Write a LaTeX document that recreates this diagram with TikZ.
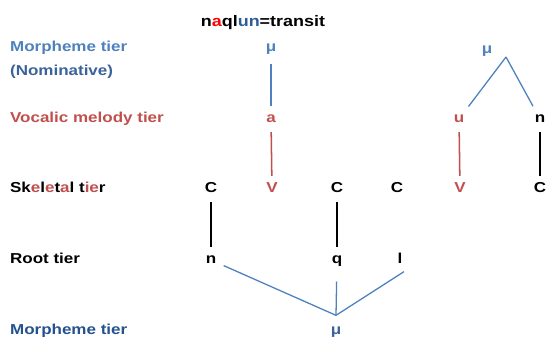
\documentclass[tikz,border=0pt]{standalone}
\usepackage{fontspec}
\setmainfont{Liberation Sans}
\usetikzlibrary{positioning}
\definecolor{tierBlue}{HTML}{4F81BD}
\definecolor{nomBlue}{HTML}{3A6399}
\definecolor{deepBlue}{HTML}{24528E}
\definecolor{tierRed}{HTML}{C0504D}
\definecolor{titleBlue}{HTML}{2F5C99}
\tikzstyle{seg} = [font=\fontsize{12.3}{14}\selectfont\bfseries, xscale=1.18,
    inner xsep=3pt, inner ysep=3.5pt, text height=2.6mm, text depth=0.7mm]
\tikzstyle{tier} = [seg, anchor=west]
\tikzstyle{link} = [shorten >=1mm, shorten <=1mm]
\tikzstyle{blueLine} = [draw=tierBlue, line width=1.1pt]
\tikzstyle{redLine} = [draw=tierRed, line width=1.3pt]
\tikzstyle{blackLine} = [draw=black, line width=1.6pt]

\begin{document}
\begin{tikzpicture}

\useasboundingbox (0,0) rectangle (16.38,-10.14);

\node[seg, font=\fontsize{13}{15}\selectfont\bfseries] (Title) at (7.89,-0.69)
  {n\textcolor{red}{a}ql\textcolor{titleBlue}{un}=transit};

\node[tier, text=tierBlue] (MorphTop) at (0.17,-1.44) {Morpheme tier};
\node[tier, text=nomBlue] (Nominative) at (0.17,-2.16) {(Nominative)};
\node[tier, text=tierRed] (Vocalic) at (0.17,-3.57) {Vocalic melody tier};
\node[tier] (Skeletal) at (0.17,-5.67)
  {Sk\textcolor{tierRed}{e}l\textcolor{tierRed}{e}t\textcolor{tierRed}{a}l
   t\textcolor{tierRed}{ie}r};
\node[tier] (Root) at (0.17,-7.8) {Root tier};
\node[tier, text=deepBlue] (MorphBottom) at (0.17,-9.93) {Morpheme tier};

\node[seg, text=tierBlue] (muA) at (8.13,-1.44) {μ};
\node[seg, text=tierBlue] (muB) at (14.61,-1.5) {μ};

\node[seg, text=tierRed] (vowA) at (8.13,-3.57) {a};
\node[seg, text=tierRed] (vowU) at (13.77,-3.57) {u};
\node[seg] (consN) at (16.2,-3.57) {n};

\node[seg] (CA) at (6.33,-5.67) {C};
\node[seg, text=tierRed] (VA) at (8.16,-5.67) {V};
\node[seg] (CB) at (10.11,-5.67) {C};
\node[seg] (CC) at (11.91,-5.67) {C};
\node[seg, text=tierRed] (VB) at (13.8,-5.67) {V};
\node[seg] (CD) at (16.2,-5.67) {C};

\node[seg] (rootN) at (6.33,-7.8) {n};
\node[seg] (rootQ) at (10.11,-7.8) {q};
\node[seg] (rootL) at (12.0,-7.8) {l};

\node[seg, text=nomBlue] (muC) at (10.08,-9.93) {μ};

\coordinate (topJoin) at ([shift={(0.57,-0.21)}]muB.center);
\coordinate (botJoin) at ([yshift=0.47cm]muC.center);

\draw[blueLine, link, shorten <=2mm] (muA) -- (vowA);
\draw[redLine, link] (vowA) -- (VA);
\draw[redLine, link] (vowU) -- (VB);
\draw[blackLine, link] (consN) -- (CD);
\draw[blackLine, link] (CA) -- (rootN);
\draw[blackLine, link] (CB) -- (rootQ);

\draw[blueLine, shorten <=1mm] (vowU) -- (topJoin);
\draw[blueLine, shorten <=1mm] (consN) -- (topJoin);

\draw[blueLine, shorten <=1mm] (rootN) -- (botJoin);
\draw[blueLine, shorten <=3.5mm] (rootQ) -- (botJoin);
\draw[blueLine, shorten <=1mm] (rootL.south east) -- (botJoin);

\end{tikzpicture}
\end{document}
